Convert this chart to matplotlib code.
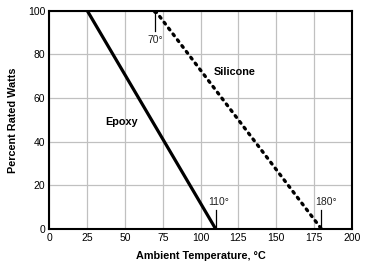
import matplotlib.pyplot as plt

plt.rcParams['font.family'] = ['Liberation Sans', 'DejaVu Sans']

# derating curves (temperature, percent rated watts)
epoxy_t = [25, 110]
epoxy_p = [100, 0]
silicone_t = [70, 180]
silicone_p = [100, 0]

x_ticks = [0, 25, 50, 75, 100, 125, 150, 175, 200]
y_ticks = [0, 20, 40, 60, 80, 100]

fig = plt.figure(figsize=(3.71, 2.64), dpi=100)
ax = fig.add_axes([0.1334, 0.1326, 0.8146, 0.8269])

ax.plot(epoxy_t, epoxy_p, color='black', lw=2.3, solid_capstyle='butt', zorder=3)
ax.plot(silicone_t, silicone_p, color='black', lw=2.4, linestyle=(0, (0.6, 1.6)),
        dash_capstyle='round', zorder=3)

# marker ticks at the break points
ax.plot([70, 70], [100, 90.5], color='black', lw=0.9, zorder=3)
ax.plot([70], [100], 'ko', ms=2.5, zorder=4)
ax.plot([110, 110], [0, 8.7], color='black', lw=0.9, zorder=3)
ax.plot([180, 180], [0, 8.7], color='black', lw=0.9, zorder=3)

ax.text(70, 86.8, '70°', fontsize=7.5, ha='center', va='center', color='#222222')
ax.text(112.2, 12.4, '110°', fontsize=7.5, ha='center', va='center', color='#222222')
ax.text(182.8, 12.4, '180°', fontsize=7.5, ha='center', va='center', color='#222222')

ax.text(47.8, 49.2, 'Epoxy', fontsize=7.8, fontweight='bold', ha='center', va='center')
ax.text(122.8, 71.8, 'Silicone', fontsize=7.8, fontweight='bold', ha='center', va='center')

ax.set_xlim(0, 200)
ax.set_ylim(0, 100)
ax.set_xticks(x_ticks)
ax.set_yticks(y_ticks)
ax.tick_params(length=0, labelsize=7.5, pad=3)
ax.grid(True, color='#c0c0c0', lw=0.9)
ax.set_axisbelow(True)
for s in ax.spines.values():
    s.set_linewidth(1.5)

ax.set_xlabel('Ambient Temperature, °C', fontsize=7.8, fontweight='bold', labelpad=6)
ax.set_ylabel('Percent Rated Watts', fontsize=7.8, fontweight='bold', labelpad=7)

fig.savefig('out.png', dpi=100)
